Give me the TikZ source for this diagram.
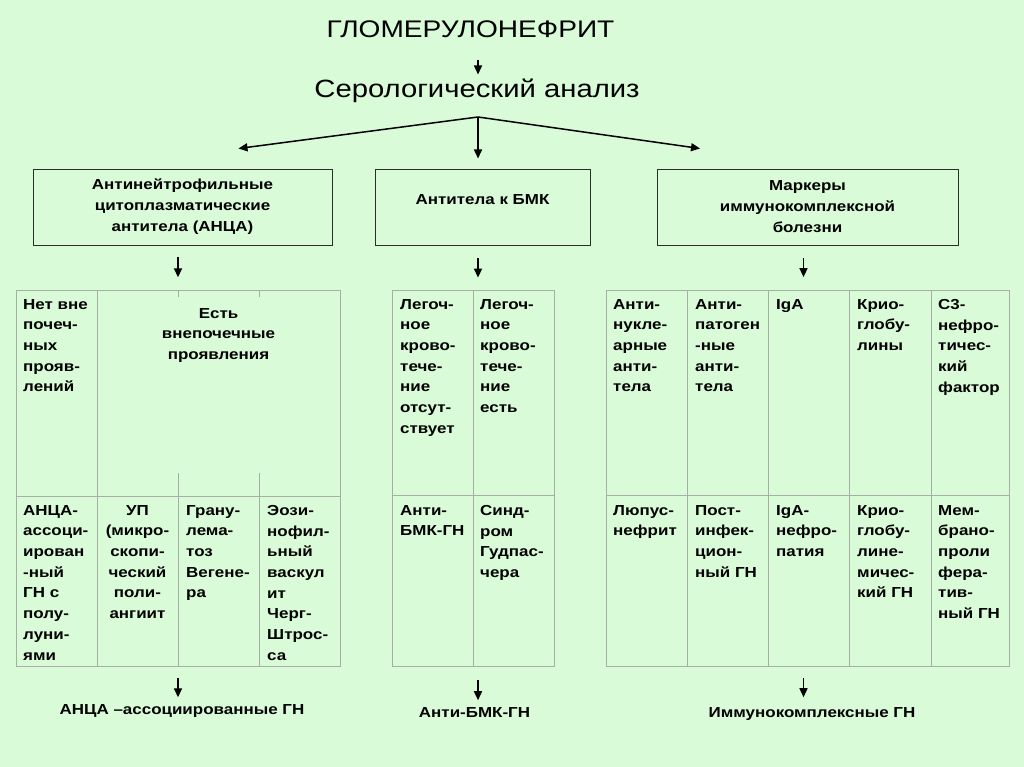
\documentclass[tikz,border=0pt]{standalone}
\usepackage{fontspec}
\setmainfont{Liberation Sans}[FakeStretch=1.17]
\usetikzlibrary{arrows.meta}
\definecolor{slidebg}{RGB}{217,251,215}
\definecolor{gridline}{RGB}{165,175,165}
\definecolor{boxline}{RGB}{45,45,45}
\tikzset{
  arr/.style={line width=1.5pt,-{Triangle[width=8pt,length=9pt]}},
  headbox/.style={draw=boxline,line width=0.9pt,minimum height=76pt,inner sep=0pt,align=center,
    font=\fontsize{14.5}{21}\selectfont\bfseries},
  tabframe/.style={draw=gridline,line width=0.8pt,inner sep=0pt,minimum height=376pt},
  tabline/.style={draw=gridline,line width=0.8pt},
  cell/.style={anchor=north west,inner sep=0pt,align=left,font=\fontsize{14.5}{20.7}\selectfont\bfseries},
  ccell/.style={cell,anchor=north,align=center},
  result/.style={anchor=base,inner sep=0pt,font=\fontsize{14.5}{17}\selectfont\bfseries}
}
\begin{document}
\begin{tikzpicture}[x=1pt,y=-1pt]
\fill[slidebg] (0,0) rectangle (1024,767);
\useasboundingbox (0,0) rectangle (1024,767);
% title and split
\node[anchor=base,inner sep=0pt,font=\fontsize{24}{28}\selectfont] (title) at (470.5,38) {ГЛОМЕРУЛОНЕФРИТ};
\node[anchor=base,inner sep=0pt,font=\fontsize{25}{30}\selectfont] (sero) at (477,97.5) {Серологический анализ};
\coordinate (split) at (478,117);
\coordinate (toA) at (238.5,148.5);
\coordinate (toB) at (478,158.5);
\coordinate (toC) at (700,148.5);
\draw[arr,shorten <=22pt,shorten >=23pt] (title.base -| split) -- (sero.base -| split);
\foreach \e in {toA,toB,toC}
  \draw[arr] (split) -- (\e);
% three groups
\node[headbox,minimum width=299pt] (bA) at (182.5,207) {Антинейтрофильные\\цитоплазматические\\антитела (АНЦА)};
\node[headbox,minimum width=215pt,text height=10pt,text depth=15pt] (bB) at (482.5,207) {Антитела к БМК};
\node[headbox,minimum width=301pt] (bC) at (807.5,207) {Маркеры\\иммунокомплексной\\болезни};
% tables
\node[tabframe,minimum width=324pt] (tA) at (178,478) {};
\node[tabframe,minimum width=162pt] (tB) at (473,478) {};
\node[tabframe,minimum width=403pt] (tC) at (807.5,478) {};
\draw[tabline] (16,496) -- (340,496);
\draw[tabline] (97,290) -- (97,666);
\foreach \x in {178,259} {
  \draw[tabline] (\x,290) -- (\x,297);
  \draw[tabline] (\x,473) -- (\x,666);
}
\draw[tabline] (392,495) -- (554,495);
\draw[tabline] (473,290) -- (473,666);
\draw[tabline] (606,495) -- (1009,495);
\foreach \x in {687,768,849,931}
  \draw[tabline] (\x,290) -- (\x,666);
\draw[arr,shorten <=12pt,shorten >=12.3pt] (tA.north |- bA.south) -- (tA.north);
\draw[arr,shorten <=13pt,shorten >=12pt] ([xshift=5pt]tB.north |- bB.south) -- ([xshift=5pt]tB.north);
\draw[arr,shorten <=13pt,shorten >=12.5pt] ([xshift=-4pt]tC.north |- bC.south) -- ([xshift=-4pt]tC.north);
% ANCA table
\node[cell] (a1) at (23,299) {Нет вне\\почеч-\\ных\\прояв-\\лений};
\node[ccell] (a2) at (218.5,308) {Есть\\внепочечные\\проявления};
\node[cell] (a3) at (23,505) {АНЦА-\\ассоци-\\ирован\\-ный\\ГН с\\полу-\\луни-\\ями};
\node[ccell] (a4) at (137.5,505) {УП\\(микро-\\скопи-\\ческий\\поли-\\ангиит};
\node[cell] (a5) at (186,505) {Грану-\\лема-\\тоз\\Вегене-\\ра};
\node[cell] (a6) at (267,505) {Эози-\\нофил-\\ьный\\васкул\\ит\\Черг-\\Штрос-\\са};
% anti-GBM table
\node[cell] (b1) at (400,299) {Легоч-\\ное\\крово-\\тече-\\ние\\отсут-\\ствует};
\node[cell] (b2) at (480,299) {Легоч-\\ное\\крово-\\тече-\\ние\\есть};
\node[cell] (b3) at (400,505) {Анти-\\БМК-ГН};
\node[cell] (b4) at (480,505) {Синд-\\ром\\Гудпас-\\чера};
% immune complex table
\node[cell] (c1) at (613,299) {Анти-\\нукле-\\арные\\анти-\\тела};
\node[cell] (c2) at (695,299) {Анти-\\патоген\\-ные\\анти-\\тела};
\node[cell] (c3) at (776,299) {IgA};
\node[cell] (c4) at (857,299) {Крио-\\глобу-\\лины};
\node[cell] (c5) at (938,299) {С3-\\нефро-\\тичес-\\кий\\фактор};
\node[cell] (c6) at (613,505) {Люпус-\\нефрит};
\node[cell] (c7) at (695,505) {Пост-\\инфек-\\цион-\\ный ГН};
\node[cell] (c8) at (776,505) {IgA-\\нефро-\\патия};
\node[cell] (c9) at (857,505) {Крио-\\глобу-\\лине-\\мичес-\\кий ГН};
\node[cell] (c10) at (938,505) {Мем-\\брано-\\проли\\фера-\\тив-\\ный ГН};
% results
\node[result] (rA) at (182,714.5) {АНЦА –ассоциированные ГН};
\node[result] (rB) at (474.5,717) {Анти-БМК-ГН};
\node[result] (rC) at (812,717) {Иммунокомплексные ГН};
\draw[arr,shorten <=12pt,shorten >=7pt] (tA.south) -- (tA.south |- rA.north);
\draw[arr,shorten <=14pt,shorten >=6.6pt] ([xshift=5pt]tB.south) -- ([xshift=5pt]tB.south |- rB.north);
\draw[arr,shorten <=12pt,shorten >=9.6pt] ([xshift=-4pt]tC.south) -- ([xshift=-4pt]tC.south |- rC.north);
\end{tikzpicture}
\end{document}
